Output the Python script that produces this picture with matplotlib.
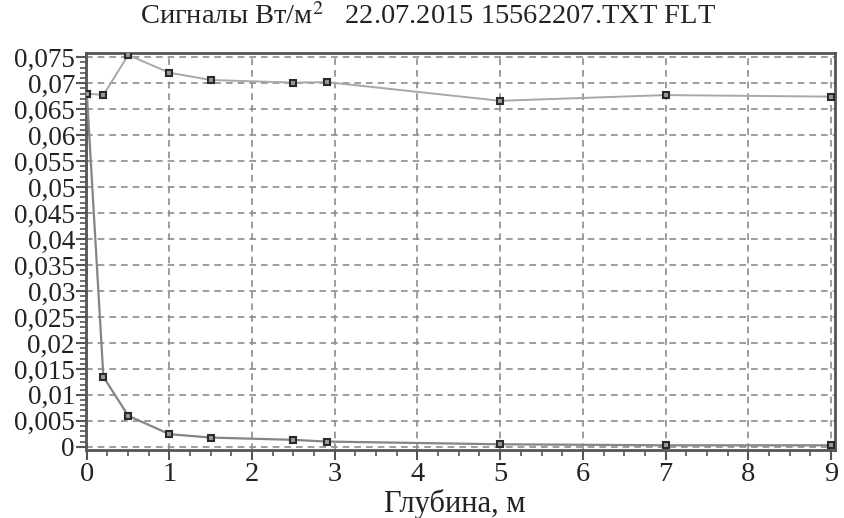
import matplotlib
matplotlib.use("Agg")
import matplotlib.pyplot as plt
from matplotlib.ticker import MultipleLocator, FuncFormatter

plt.rcParams['font.family'] = ['Liberation Serif', 'DejaVu Serif']
plt.rcParams['mathtext.fontset'] = 'stix'

# Data
depth_upper = [0, 0.2, 0.5, 1.0, 1.5, 2.5, 2.9, 5, 7, 9]
signal_upper = [0.0680, 0.0677, 0.0754, 0.0720, 0.0706, 0.0701, 0.0702, 0.0666, 0.0677, 0.0674]

depth_lower = [0, 0.2, 0.5, 1.0, 1.5, 2.5, 2.9, 5, 7, 9]
signal_lower = [0.0680, 0.0135, 0.0060, 0.00244, 0.00179, 0.00135, 0.00102, 0.0005, 0.0003, 0.0003]

x_ticks = [0, 1, 2, 3, 4, 5, 6, 7, 8, 9]
y_ticks = [0, 0.005, 0.01, 0.015, 0.02, 0.025, 0.03, 0.035, 0.04, 0.045,
           0.05, 0.055, 0.06, 0.065, 0.07, 0.075]

title = "Сигналы Вт/м$^2$   22.07.2015 15562207.TXT FLT"
xlabel = "Глубина, м"

fig = plt.figure(figsize=(8.44, 5.18), dpi=100)
ax = fig.add_axes([0.1019, 0.1313, 0.8874, 0.7664])

ax.plot(depth_upper, signal_upper, color='#a8a8a8', lw=1.4, zorder=3)
ax.plot(depth_lower, signal_lower, color='#858585', lw=1.6, zorder=3)
ax.plot(depth_upper, signal_upper, ls='none', marker='s', ms=5,
        mfc='#9a9a9a', mec='#2a2a2a', mew=1.5, zorder=4)
ax.plot(depth_lower, signal_lower, ls='none', marker='s', ms=5,
        mfc='#9a9a9a', mec='#2a2a2a', mew=1.5, zorder=4)

ax.set_xlim(-0.01, 9.05)
ax.set_ylim(-0.0006, 0.0758)

ax.set_xticks(x_ticks)
ax.set_yticks(y_ticks)
ax.xaxis.set_minor_locator(MultipleLocator(0.25))
ax.yaxis.set_minor_locator(MultipleLocator(0.001))

def fmt(v, pos):
    s = ('%.3f' % v).rstrip('0').rstrip('.')
    if s in ('', '-0'):
        s = '0'
    return s.replace('.', ',')

ax.yaxis.set_major_formatter(FuncFormatter(fmt))
ax.xaxis.set_major_formatter(FuncFormatter(lambda v, p: '%d' % v))

ax.grid(True, which='major', color='#8c8c8c', ls=(0, (4, 3)), lw=1.2)
for s in ax.spines.values():
    s.set_color('#555555')
    s.set_linewidth(2.0)

ax.tick_params(axis='both', which='major', direction='out', length=7, width=1.5,
               color='#555555', labelsize=19.5, pad=1)
ax.tick_params(axis='x', which='major', labelsize=20.5, pad=2)
ax.tick_params(axis='both', which='minor', direction='out', length=4, width=1.2,
               color='#555555')

fig.text(140 / 844, 1 - 3 / 518, title, fontsize=20.5, ha='left', va='top', color='#222222')
fig.text(455 / 844, 1 - 512 / 518, xlabel, fontsize=22, ha='center', va='baseline', color='#222222')
for lab in ax.get_xticklabels() + ax.get_yticklabels():
    lab.set_color('#222222')

fig.savefig('out.png', dpi=100)
